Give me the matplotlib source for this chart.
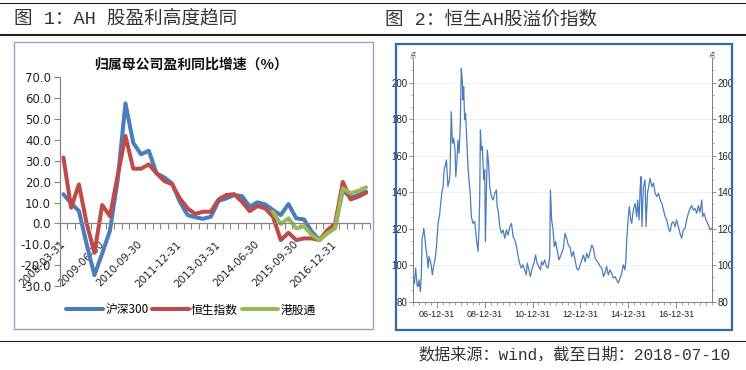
import numpy as np
import pandas as pd
import matplotlib
matplotlib.use('Agg')
import matplotlib.pyplot as plt
from matplotlib.lines import Line2D
from matplotlib.patches import Rectangle
from matplotlib.ticker import MultipleLocator, FixedLocator

plt.rcParams['font.family'] = ['Noto Sans CJK SC', 'DejaVu Sans']

# ---------------- data: figure 1 (quarterly YoY profit growth, %) ----------------
quarters = pd.date_range('2008-03-31', periods=40, freq='QE')
tick_labels = ['2008-03-31', '2009-06-30', '2010-09-30', '2011-12-31',
               '2013-03-31', '2014-06-30', '2015-09-30', '2016-12-31']
hs300 = [14.0, 9.6, 6.0, -10.0, -24.8, -14.4, -3.5, 21.0, 57.5, 38.6,
         33.1, 34.8, 24.0, 22.0, 19.2, 10.4, 4.0, 2.9, 2.2, 3.2,
         10.8, 12.0, 13.6, 13.1, 8.0, 10.1, 9.1, 6.4, 4.0, 9.3,
         2.4, 1.9, -4.0, -7.7, -4.5, -1.6, 16.0, 12.3, 13.6, 15.2]
hsi = [31.6, 7.5, 18.7, 0.0, -14.1, 8.8, 3.5, 23.0, 41.9, 26.2,
       26.2, 28.3, 24.0, 20.3, 18.7, 12.0, 7.2, 4.5, 5.6, 5.6,
       11.5, 13.6, 14.0, 10.4, 5.9, 8.3, 7.2, 3.2, -8.0, -4.5,
       -8.0, -7.2, -7.2, -8.0, -3.2, -0.3, 19.9, 11.5, 12.8, 14.7]
ggt = [np.nan] * 27 + [5.5, -0.3, 2.4, -2.4, -1.3, -5.6, -8.0, -4.8, -2.4,
                       16.8, 14.4, 15.6, 17.3]
series_names = ['沪深300', '恒生指数', '港股通']

# ---------------- data: figure 2 (Hang Seng AH premium index) ----------------
ah_t = [2006.00, 2006.06, 2006.11, 2006.17, 2006.21, 2006.25, 2006.31, 2006.35, 2006.38, 2006.42,
        2006.45, 2006.49, 2006.53, 2006.59, 2006.63, 2006.67, 2006.73, 2006.77, 2006.81, 2006.86,
        2006.93, 2006.98, 2007.05, 2007.12, 2007.16, 2007.21, 2007.26, 2007.30, 2007.34, 2007.40,
        2007.42, 2007.46, 2007.51, 2007.55, 2007.60, 2007.65, 2007.70, 2007.76, 2007.79, 2007.84,
        2007.88, 2007.93, 2007.98, 2008.02, 2008.06, 2008.09, 2008.12, 2008.16, 2008.20, 2008.26,
        2008.30, 2008.34, 2008.39, 2008.44, 2008.51, 2008.58, 2008.65, 2008.72, 2008.76, 2008.79,
        2008.82, 2008.86, 2008.90, 2008.96, 2009.00, 2009.03, 2009.07, 2009.11, 2009.17, 2009.21,
        2009.28, 2009.35, 2009.42, 2009.49, 2009.52, 2009.56, 2009.63, 2009.70, 2009.77, 2009.84,
        2009.91, 2009.98, 2010.05, 2010.12, 2010.19, 2010.26, 2010.33, 2010.39, 2010.46, 2010.53,
        2010.60, 2010.67, 2010.74, 2010.78, 2010.85, 2010.91, 2010.99, 2011.06, 2011.13, 2011.19,
        2011.26, 2011.33, 2011.38, 2011.44, 2011.51, 2011.58, 2011.65, 2011.72, 2011.75, 2011.80,
        2011.86, 2011.91, 2011.97, 2012.04, 2012.11, 2012.22, 2012.29, 2012.36, 2012.43, 2012.50,
        2012.57, 2012.64, 2012.71, 2012.78, 2012.85, 2012.92, 2012.99, 2013.06, 2013.13, 2013.20,
        2013.27, 2013.34, 2013.41, 2013.48, 2013.55, 2013.62, 2013.69, 2013.76, 2013.83, 2013.90,
        2013.97, 2014.03, 2014.10, 2014.17, 2014.24, 2014.31, 2014.38, 2014.45, 2014.52, 2014.59,
        2014.66, 2014.73, 2014.80, 2014.87, 2014.91, 2014.94, 2015.01, 2015.05, 2015.11, 2015.15,
        2015.22, 2015.29, 2015.36, 2015.40, 2015.46, 2015.50, 2015.54, 2015.58, 2015.64, 2015.71,
        2015.75, 2015.81, 2015.86, 2015.92, 2015.99, 2016.06, 2016.13, 2016.20, 2016.27, 2016.34,
        2016.41, 2016.48, 2016.55, 2016.62, 2016.69, 2016.76, 2016.82, 2016.89, 2016.96, 2017.03,
        2017.10, 2017.17, 2017.24, 2017.31, 2017.38, 2017.45, 2017.52, 2017.59, 2017.66, 2017.73,
        2017.80, 2017.87, 2017.94, 2018.01, 2018.08, 2018.12, 2018.18, 2018.26, 2018.36, 2018.43,
        2018.50]
ah_v = [93.8, 90.0, 98.4, 89.0, 88.3, 92.0, 85.6, 95.0, 114.7, 117.0,
        120.2, 116.0, 110.2, 104.7, 98.4, 104.7, 102.0, 99.0, 94.7, 99.3,
        103.8, 110.2, 122.9, 128.4, 134.0, 140.0, 143.0, 152.0, 154.0, 157.6,
        153.0, 143.0, 146.0, 150.0, 184.1, 166.8, 169.5, 163.0, 148.5, 157.6,
        168.6, 161.3, 177.8, 207.9, 201.5, 190.5, 197.8, 179.6, 183.2, 164.9,
        154.0, 147.0, 140.0, 126.6, 122.9, 124.0, 114.7, 107.5, 119.3, 135.7,
        174.1, 163.1, 165.0, 146.7, 152.2, 112.9, 140.0, 163.1, 154.0, 143.0,
        137.6, 135.7, 139.4, 141.2, 132.1, 130.2, 121.1, 117.5, 119.3, 114.7,
        119.3, 116.5, 121.1, 122.9, 115.6, 113.8, 110.2, 105.6, 101.1, 98.4,
        100.2, 97.4, 94.7, 101.1, 97.4, 93.8, 98.4, 101.1, 105.6, 101.1,
        99.3, 97.4, 102.0, 100.2, 102.9, 99.3, 98.4, 104.7, 141.2, 124.8,
        119.3, 110.2, 112.9, 107.5, 102.9, 106.5, 109.2, 117.4, 114.6, 111.0,
        110.0, 104.7, 107.5, 102.8, 98.2, 97.3, 100.0, 102.8, 105.5, 101.9,
        106.5, 103.8, 107.5, 111.0, 109.2, 103.8, 102.3, 101.1, 99.3, 98.4,
        93.8, 95.6, 99.3, 94.7, 97.4, 95.6, 92.9, 93.8, 92.0, 90.2,
        92.9, 95.6, 100.2, 97.4, 102.9, 113.8, 126.6, 132.1, 124.8, 122.9,
        130.2, 133.9, 126.6, 135.7, 124.8, 141.2, 148.5, 121.1, 143.0, 146.7,
        121.1, 139.4, 143.0, 147.6, 143.0, 145.0, 139.4, 137.6, 139.4, 135.7,
        133.9, 130.2, 126.6, 124.8, 120.2, 118.3, 122.9, 123.8, 121.1, 124.8,
        121.1, 117.5, 114.7, 119.3, 120.2, 124.8, 128.4, 130.9, 132.7, 130.2,
        131.0, 128.4, 132.7, 129.0, 135.7, 126.6, 128.4, 124.8, 122.0, 119.3,
        120.2]
ah_ticks = [2007, 2009, 2011, 2013, 2015, 2017]
ah_tick_labels = ['06-12-31', '08-12-31', '10-12-31', '12-12-31', '14-12-31', '16-12-31']

# ---------------- figure ----------------
W, H = 746, 370
fig = plt.figure(figsize=(W / 100, H / 100), dpi=100)


def fx(px):
    return px / W


def fy(py):
    return 1 - py / H


mono_cjk = ['Liberation Mono', 'Noto Sans CJK SC']

# header / footer rules
fig.add_artist(Line2D([0, 1], [fy(2.5), fy(2.5)], transform=fig.transFigure, color='#222222', lw=0.8))
fig.add_artist(Line2D([0, 1], [fy(34.5), fy(34.5)], transform=fig.transFigure, color='#222222', lw=1.5))
fig.add_artist(Line2D([0, 1], [fy(340.5), fy(340.5)], transform=fig.transFigure, color='#222222', lw=0.8))

fig.text(fx(14), fy(19.5), '图 1：AH 股盈利高度趋同', fontsize=13.4, color='#333333', va='center', ha='left',
         family=mono_cjk)
fig.text(fx(385), fy(19.5), '图 2：恒生AH股溢价指数', fontsize=13.4, color='#333333', va='center', ha='left',
         family=mono_cjk)
fig.text(fx(731), fy(355), '数据来源：wind，截至日期：2018-07-10', fontsize=11.6, color='#333333',
         va='center', ha='right', family=mono_cjk)

# panel frames
fig.add_artist(Rectangle((fx(13.5), fy(329)), fx(373) - fx(13.5), fy(42) - fy(329),
                         transform=fig.transFigure, fill=False, edgecolor='#8FA8C4', lw=1.0))
fig.add_artist(Rectangle((fx(396), fy(330)), fx(732) - fx(396), fy(43.5) - fy(330),
                         transform=fig.transFigure, fill=False, edgecolor='#2B6BB0', lw=1.6))

# ---------------- left chart ----------------
ax1 = fig.add_axes([fx(59.5), fy(286), fx(370) - fx(59.5), fy(77.3) - fy(286)])
x = np.arange(len(quarters))
colors = ['#4A7EBB', '#BE4B48', '#98B954']
for vals, name, c in zip([hs300, hsi, ggt], series_names, colors):
    ax1.plot(x, vals, color=c, lw=2.9, label=name, solid_joinstyle='round', solid_capstyle='round')
ax1.set_xlim(-0.5, len(quarters) - 0.5)
ax1.set_ylim(-30, 70)
ax1.yaxis.set_major_locator(MultipleLocator(10))
ax1.yaxis.set_major_formatter(matplotlib.ticker.FormatStrFormatter('%.1f'))
for s in ['top', 'right']:
    ax1.spines[s].set_visible(False)
ax1.spines['bottom'].set_position(('data', 0))
for s in ['left', 'bottom']:
    ax1.spines[s].set_color('#868686')
    ax1.spines[s].set_linewidth(0.9)
label_idx = [quarters.strftime('%Y-%m-%d').tolist().index(l) for l in tick_labels]
ax1.xaxis.set_major_locator(FixedLocator(label_idx))
ax1.set_xticklabels(tick_labels)
ax1.xaxis.set_minor_locator(FixedLocator(np.arange(-0.5, len(quarters), 1.0)))
ax1.tick_params(axis='x', which='major', length=0, pad=14, labelsize=7.5, labelcolor='#222222')
ax1.tick_params(axis='x', which='minor', length=4, color='#868686', direction='out', width=0.8)
ax1.tick_params(axis='y', length=4, color='#868686', width=0.8, labelsize=8.5, labelcolor='#222222', pad=2)
for lab in ax1.get_xticklabels():
    lab.set_rotation(45)
    lab.set_ha('right')
    lab.set_va('center')
    lab.set_rotation_mode('anchor')
    lab.set_family('DejaVu Sans')
for lab in ax1.get_yticklabels():
    lab.set_family('DejaVu Sans')
ax1.set_facecolor('none')
fig.text(fx(191), fy(65), '归属母公司盈利同比增速（%）', fontsize=10, fontweight='bold', ha='center',
         va='center', color='#111111')
leg = fig.legend(*ax1.get_legend_handles_labels(), loc='center', bbox_to_anchor=(fx(191), fy(310)),
                 ncol=3, frameon=False, fontsize=8.5, handlelength=3.1, handletextpad=0.2,
                 columnspacing=0.3, borderpad=0)

# ---------------- right chart ----------------
ax2 = fig.add_axes([fx(413), fy(301.7), fx(712) - fx(413), fy(58) - fy(301.7)])
ax2.plot(ah_t, ah_v, color='#4A7EBB', lw=0.9)
ax2.set_xlim(2006.0, 2018.51)
ax2.set_ylim(80, 213.5)
ax2.yaxis.set_major_locator(FixedLocator([80, 100, 120, 140, 160, 180, 200]))
ax2.yaxis.set_minor_locator(MultipleLocator(20 / 3))
ax2.grid(axis='y', which='major', color='#EFEFEF', lw=0.8)
ax2.set_axisbelow(True)
ax2.spines['top'].set_visible(False)
for s in ['left', 'right', 'bottom']:
    ax2.spines[s].set_color('#7F7F7F')
    ax2.spines[s].set_linewidth(0.7)
ax2.xaxis.set_major_locator(FixedLocator(ah_ticks))
ax2.set_xticklabels(ah_tick_labels)
ax2.xaxis.set_minor_locator(MultipleLocator(0.25))
ax2.tick_params(axis='x', which='major', length=4, width=0.6, color='#7F7F7F', labelsize=6.5,
                labelcolor='#222222', pad=2)
ax2.tick_params(axis='x', which='minor', length=2.5, width=0.5, color='#7F7F7F')
ax2.tick_params(axis='y', which='major', length=3, width=0.6, color='#7F7F7F', labelsize=7,
                labelcolor='#222222', pad=1, left=True, right=True, labelleft=True, labelright=True)
ax2.tick_params(axis='y', which='minor', length=1.5, width=0.5, color='#7F7F7F', left=True, right=True)
for lab in ax2.get_xticklabels() + ax2.yaxis.get_majorticklabels():
    lab.set_family('Liberation Sans')
for t in ax2.yaxis.get_major_ticks():
    t.label2.set_family('Liberation Sans')
ax2.text(0.0, 1.0, '点', transform=ax2.transAxes, fontsize=4.5, ha='center', va='bottom', color='#444444')
ax2.text(1.0, 1.0, '点', transform=ax2.transAxes, fontsize=4.5, ha='center', va='bottom', color='#444444')

fig.savefig('out.png', dpi=100)
